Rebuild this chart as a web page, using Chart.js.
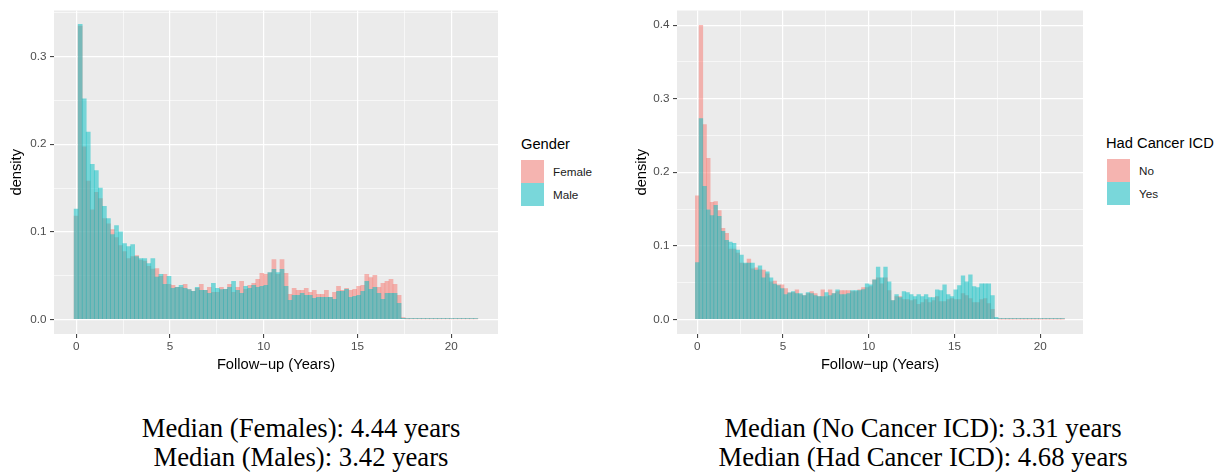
<!DOCTYPE html>
<html>
<head>
<meta charset="utf-8">
<script src="https://cdn.jsdelivr.net/npm/chart.js@4.4.1/dist/chart.umd.min.js"></script>
<style>
  body { margin: 0; background: #fff; width: 1226px; height: 473px; position: relative; overflow: hidden; font-family: "Liberation Sans", Arial, sans-serif; }
  canvas { position: absolute; top: 0; }
  .legend-title { position: absolute; font-size: 14.7px; line-height: 1; color: #000; white-space: nowrap; }
  .key { position: absolute; width: 23px; height: 23px; }
  .key-label { position: absolute; font-size: 11.7px; line-height: 23px; color: #1a1a1a; white-space: nowrap; }
  .median { position: absolute; width: 600px; text-align: center; font-family: "Liberation Serif", "Times New Roman", serif; font-size: 26.7px; line-height: 30px; color: #000; white-space: nowrap; }
</style>
</head>
<body>
<canvas id="genderChart" width="500" height="380" style="left:0px"></canvas>
<canvas id="cancerChart" width="460" height="380" style="left:624px"></canvas>

<div class="legend-title" style="left:521px; top:137px">Gender</div>
<div class="key" style="left:521px; top:160px; background:#F5B4B0"></div>
<div class="key" style="left:521px; top:183px; background:#79D7DA"></div>
<div class="key-label" style="left:553px; top:160px">Female</div>
<div class="key-label" style="left:553px; top:183px">Male</div>

<div class="legend-title" style="left:1106px; top:136px">Had Cancer ICD</div>
<div class="key" style="left:1107px; top:159px; background:#F5B4B0"></div>
<div class="key" style="left:1107px; top:182px; background:#79D7DA"></div>
<div class="key-label" style="left:1139px; top:159px">No</div>
<div class="key-label" style="left:1139px; top:182px">Yes</div>

<div class="median" style="left:1px; top:413px">Median (Females): 4.44 years</div>
<div class="median" style="left:1px; top:442px">Median (Males): 3.42 years</div>
<div class="median" style="left:623px; top:413px">Median (No Cancer ICD): 3.31 years</div>
<div class="median" style="left:623px; top:442px">Median (Had Cancer ICD): 4.68 years</div>

<script>
// histogram: 100 bins, bin width in years (bin i centred at i * binWidth)
const binWidth = 0.2152;

// density per bin
const femaleDensity = [
  0.118, 0.335, 0.197, 0.158, 0.125, 0.145, 0.138, 0.115, 0.109, 0.1025,
  0.0934, 0.0843, 0.0775, 0.0695, 0.0718, 0.0729, 0.0676, 0.0664, 0.0604, 0.0573,
  0.058, 0.049, 0.0513, 0.040, 0.0387, 0.0364, 0.0364, 0.040, 0.034, 0.032,
  0.0353, 0.040, 0.033, 0.0364, 0.0308, 0.0308, 0.0364, 0.0342, 0.0399, 0.0308,
  0.0364, 0.0433, 0.0342, 0.0387, 0.041, 0.0456, 0.0524, 0.0513, 0.053, 0.0683,
  0.0513, 0.0683, 0.0524, 0.0285, 0.0353, 0.033, 0.033, 0.0353, 0.0308, 0.033,
  0.0285, 0.0285, 0.033, 0.0251, 0.0308, 0.0376, 0.033, 0.0353, 0.033, 0.0342,
  0.0376, 0.0387, 0.0513, 0.0478, 0.0501, 0.0364, 0.041, 0.0433, 0.0456, 0.0399,
  0.0273, 0.002, 0.0003, 0.0003, 0.0003, 0.0003, 0.0003, 0.0003, 0.0003, 0.0003,
  0.0003, 0.0003, 0.0003, 0.0003, 0.0003, 0.0003, 0.0003, 0.0003, 0.0003, 0.0003
];
const maleDensity = [
  0.126, 0.337, 0.252, 0.214, 0.177, 0.170, 0.150, 0.129, 0.115, 0.0968,
  0.107, 0.100, 0.0866, 0.083, 0.0854, 0.0718, 0.0695, 0.0695, 0.0638, 0.0695,
  0.0482, 0.0513, 0.040, 0.049, 0.0353, 0.0364, 0.0387, 0.0353, 0.034, 0.032,
  0.0364, 0.033, 0.033, 0.0296, 0.041, 0.0353, 0.034, 0.0342, 0.0364, 0.0433,
  0.033, 0.0296, 0.0376, 0.0353, 0.0387, 0.0364, 0.0376, 0.0387, 0.0535, 0.057,
  0.0535, 0.057, 0.0376, 0.0216, 0.0273, 0.0273, 0.0296, 0.0273, 0.0273, 0.0239,
  0.0251, 0.0251, 0.0251, 0.0251, 0.0228, 0.0319, 0.0319, 0.0342, 0.0251, 0.0262,
  0.0273, 0.0319, 0.0433, 0.0342, 0.0364, 0.0296, 0.0228, 0.0296, 0.0296, 0.0296,
  0.0182, 0.001, 0.0008, 0.0008, 0.0008, 0.0008, 0.0008, 0.0008, 0.0008, 0.0008,
  0.0008, 0.0008, 0.0008, 0.0008, 0.0008, 0.0008, 0.0008, 0.0008, 0.0008, 0.0008
];
const noCancerDensity = [
  0.168, 0.400, 0.265, 0.219, 0.159, 0.160, 0.148, 0.1237, 0.117, 0.0954,
  0.0954, 0.090, 0.0766, 0.0753, 0.082, 0.0685, 0.070, 0.0672, 0.067, 0.0618,
  0.051, 0.052, 0.047, 0.047, 0.0417, 0.036, 0.0363, 0.040, 0.0336, 0.0323,
  0.035, 0.0376, 0.035, 0.031, 0.040, 0.031, 0.040, 0.035, 0.0376, 0.039,
  0.039, 0.039, 0.0376, 0.0376, 0.040, 0.043, 0.043, 0.0444, 0.0538, 0.0565,
  0.0484, 0.0565, 0.039, 0.0255, 0.031, 0.031, 0.0269, 0.0269, 0.0255, 0.0269,
  0.0202, 0.0228, 0.0269, 0.0228, 0.0255, 0.031, 0.0242, 0.0242, 0.0269, 0.0282,
  0.0269, 0.0269, 0.035, 0.0323, 0.0282, 0.0228, 0.0228, 0.0269, 0.0282, 0.0215,
  0.0134, 0.001, 0.0002, 0.0002, 0.0002, 0.0002, 0.0002, 0.0002, 0.0002, 0.0002,
  0.0002, 0.0002, 0.0002, 0.0002, 0.0002, 0.0002, 0.0002, 0.0002, 0.0002, 0.0002
];
const hadCancerDensity = [
  0.077, 0.273, 0.181, 0.149, 0.141, 0.155, 0.140, 0.1196, 0.1075, 0.105,
  0.1035, 0.094, 0.0874, 0.0766, 0.0766, 0.0766, 0.067, 0.0726, 0.0565, 0.0645,
  0.0565, 0.048, 0.0457, 0.0417, 0.0336, 0.036, 0.0376, 0.035, 0.035, 0.0323,
  0.0363, 0.035, 0.0323, 0.031, 0.031, 0.0363, 0.0323, 0.035, 0.040, 0.0336,
  0.0336, 0.035, 0.039, 0.039, 0.039, 0.0403, 0.0484, 0.047, 0.0538, 0.071,
  0.0565, 0.071, 0.0511, 0.0255, 0.0336, 0.0296, 0.0376, 0.0363, 0.0336, 0.031,
  0.0336, 0.031, 0.0336, 0.0296, 0.0296, 0.040, 0.039, 0.047, 0.0336, 0.031,
  0.040, 0.0457, 0.0591, 0.0511, 0.0605, 0.0444, 0.043, 0.0484, 0.0484, 0.0484,
  0.0323, 0.0027, 0.0008, 0.0008, 0.0008, 0.0008, 0.0008, 0.0008, 0.0008, 0.0008,
  0.0008, 0.0008, 0.0008, 0.0008, 0.0008, 0.0008, 0.0008, 0.0008, 0.0008, 0.0008
];

// axis ticks (major ones get labels)
const xTicks = [0, 2.5, 5, 7.5, 10, 12.5, 15, 17.5, 20];
const xLabels = ['0', '5', '10', '15', '20'];
const yTicksGender = [0, 0.05, 0.1, 0.15, 0.2, 0.25, 0.3, 0.35];
const yTicksCancer = [0, 0.05, 0.1, 0.15, 0.2, 0.25, 0.3, 0.35, 0.4];

Chart.defaults.font.family = '"Liberation Sans", Arial, sans-serif';

// grey ggplot panel behind the grid
const panelBg = {
  id: 'panelBg',
  beforeDraw(chart) {
    const { ctx, chartArea } = chart;
    ctx.save();
    ctx.fillStyle = '#EBEBEB';
    ctx.fillRect(chartArea.left, chartArea.top, chartArea.width, chartArea.height);
    ctx.restore();
  }
};

function toPoints(values) {
  return values.map((v, i) => ({ x: i * binWidth, y: v }));
}

function isMajorX(v) { return Math.abs(v % 5) < 1e-6; }
function isMajorY(v) { return Math.round(v * 100) % 10 === 0; }

function makeChart(id, pinkValues, tealValues, opt) {
  const ctx = document.getElementById(id).getContext('2d');
  return new Chart(ctx, {
    type: 'bar',
    data: {
      datasets: [
        {
          label: opt.pinkName,
          data: toPoints(pinkValues),
          backgroundColor: 'rgba(248,118,109,0.5)',
          borderWidth: 0,
          order: 2
        },
        {
          label: opt.tealName,
          data: toPoints(tealValues),
          backgroundColor: 'rgba(0,191,196,0.5)',
          borderWidth: 0,
          order: 1
        }
      ]
    },
    options: {
      responsive: false,
      animation: false,
      devicePixelRatio: 1,
      layout: { padding: opt.padding },
      datasets: { bar: { barPercentage: 1, categoryPercentage: 1, grouped: false } },
      plugins: { legend: { display: false }, tooltip: { enabled: false } },
      scales: {
        x: {
          type: 'linear',
          min: -1.18,
          max: 22.49,
          offset: false,
          afterBuildTicks: axis => { axis.ticks = xTicks.map(v => ({ value: v })); },
          afterFit: s => { s.height = 46; },
          border: { display: false },
          grid: {
            offset: false,
            color: '#fff',
            lineWidth: c => isMajorX(c.tick.value) ? 1.2 : 0.6,
            tickColor: c => isMajorX(c.tick.value) ? '#333' : 'rgba(0,0,0,0)',
            tickLength: 4,
            tickWidth: 1
          },
          ticks: {
            autoSkip: false,
            maxRotation: 0,
            padding: 2,
            color: '#4D4D4D',
            font: { size: 11.7 },
            callback: v => isMajorX(v) ? xLabels[Math.round(v / 5)] : ''
          },
          title: {
            display: true,
            text: 'Follow\u2212up (Years)',
            color: '#000',
            font: { size: 14.7 },
            padding: { top: 0, bottom: 6 }
          }
        },
        y: {
          min: opt.yMin,
          max: opt.yMax,
          afterBuildTicks: axis => { axis.ticks = opt.yTicks.map(v => ({ value: v })); },
          afterFit: s => { s.width = opt.yWidth; },
          border: { display: false },
          grid: {
            color: '#fff',
            lineWidth: c => isMajorY(c.tick.value) ? 1.2 : 0.6,
            tickColor: c => isMajorY(c.tick.value) ? '#333' : 'rgba(0,0,0,0)',
            tickLength: 4,
            tickWidth: 1
          },
          ticks: {
            padding: 3.5,
            color: '#4D4D4D',
            font: { size: 11.7 },
            callback: v => isMajorY(v) ? v.toFixed(1) : ''
          },
          title: {
            display: true,
            text: 'density',
            color: '#000',
            font: { size: 14.7 },
            padding: { top: opt.titlePad, bottom: 0 }
          }
        }
      }
    },
    plugins: [panelBg]
  });
}

makeChart('genderChart', femaleDensity, maleDensity, {
  pinkName: 'Female', tealName: 'Male',
  yMin: -0.0168, yMax: 0.3528, yTicks: yTicksGender,
  yWidth: 54, titlePad: 8,
  padding: { top: 9, right: 2, bottom: 0, left: 0 }
});

makeChart('cancerChart', noCancerDensity, hadCancerDensity, {
  pinkName: 'No', tealName: 'Yes',
  yMin: -0.02, yMax: 0.42, yTicks: yTicksCancer,
  yWidth: 53, titlePad: 9,
  padding: { top: 7, right: 1, bottom: 0, left: 0 }
});
</script>
</body>
</html>
